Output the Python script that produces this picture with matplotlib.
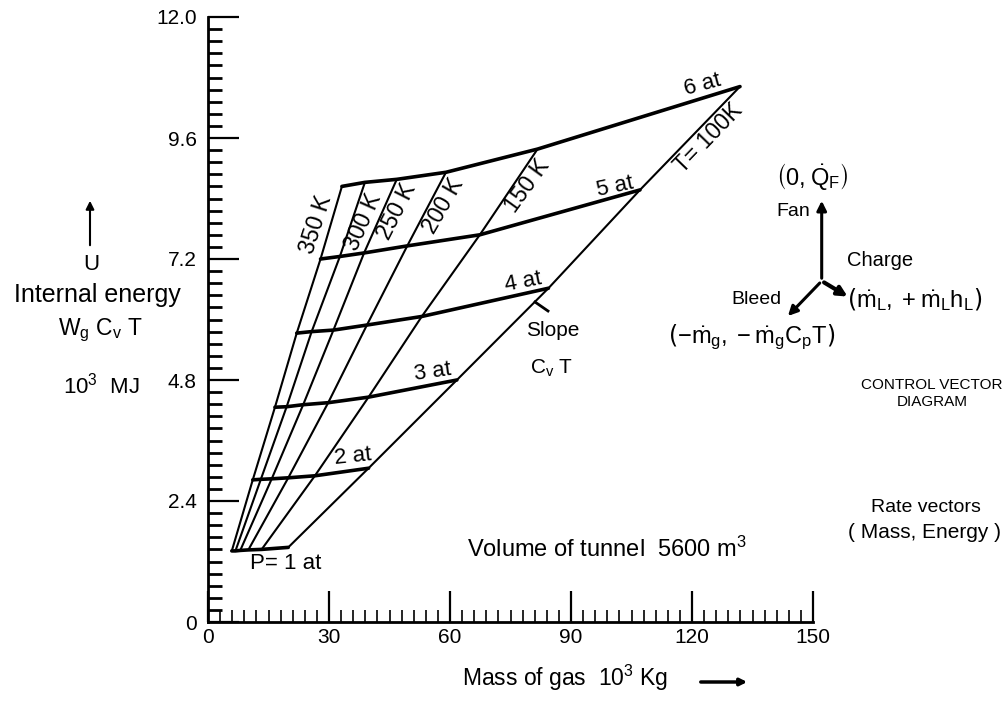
import matplotlib
matplotlib.use('Agg')
import matplotlib.pyplot as plt
from matplotlib.ticker import MultipleLocator, FixedLocator

plt.rcParams['font.family'] = ['Liberation Sans', 'DejaVu Sans']
plt.rcParams['mathtext.default'] = 'regular'

# ---------------- data ----------------
# temperature order along each isobar
temperature_labels = ['350 K', '300 K', '250 K', '200 K', '150 K', 'T= 100K']
pressure_labels = ['P= 1 at', '2 at', '3 at', '4 at', '5 at', '6 at']

# mass of gas (10^3 kg) at each isotherm for each pressure
mass_1at = [5.9, 6.8, 8.0, 10.0, 13.3, 19.9]
mass_2at = [11.1, 13.1, 15.8, 19.9, 26.5, 39.8]
mass_3at = [16.6, 19.5, 23.6, 29.8, 39.8, 61.7]
mass_4at = [22.0, 25.7, 31.1, 39.4, 53.0, 84.4]
mass_5at = [27.9, 32.7, 38.7, 49.4, 67.4, 107.1]
mass_6at = [33.2, 38.9, 46.8, 59.0, 81.7, 131.9]

# internal energy (10^3 MJ)
energy_1at = [1.41, 1.41, 1.42, 1.43, 1.44, 1.48]
energy_2at = [2.82, 2.83, 2.84, 2.86, 2.90, 3.05]
energy_3at = [4.26, 4.27, 4.31, 4.35, 4.46, 4.80]
energy_4at = [5.73, 5.76, 5.79, 5.89, 6.06, 6.62]
energy_5at = [7.20, 7.25, 7.32, 7.46, 7.68, 8.57]
energy_6at = [8.64, 8.72, 8.78, 8.92, 9.38, 10.62]

x_ticks = [0, 30, 60, 90, 120, 150]
y_ticks = [0, 2.4, 4.8, 7.2, 9.6, 12.0]
y_tick_labels = ['0', '2.4', '4.8', '7.2', '9.6', '12.0']

masses = [mass_1at, mass_2at, mass_3at, mass_4at, mass_5at, mass_6at]
energies = [energy_1at, energy_2at, energy_3at, energy_4at, energy_5at, energy_6at]

# ---------------- figure ----------------
W, H = 1007, 701
fig = plt.figure(figsize=(W / 100, H / 100), dpi=100)
fig.patch.set_facecolor('white')
ax = fig.add_axes([208 / W, (H - 622) / H, 605 / W, 605 / H])
ax.set_xlim(0, 150)
ax.set_ylim(0, 12.0)
ax.set_facecolor('none')

for s in ['top', 'right']:
    ax.spines[s].set_visible(False)
for s in ['left', 'bottom']:
    ax.spines[s].set_linewidth(2.0)

ax.xaxis.set_major_locator(FixedLocator(x_ticks))
ax.yaxis.set_major_locator(FixedLocator(y_ticks))
ax.set_yticklabels(y_tick_labels)
ax.xaxis.set_minor_locator(MultipleLocator(3))
ax.yaxis.set_minor_locator(MultipleLocator(0.24))
ax.tick_params(which='major', direction='in', length=22, width=1.6, labelsize=15)
ax.tick_params(axis='y', which='minor', direction='in', length=10, width=2.0)
ax.tick_params(axis='x', which='minor', direction='in', length=9, width=1.2)
ax.tick_params(axis='y', which='major', pad=8)
ax.tick_params(axis='x', which='major', pad=4)

# isotherms (thin straight lines)
for j in range(len(temperature_labels)):
    ax.plot([m[j] for m in masses], [e[j] for e in energies],
            color='black', lw=1.5, solid_capstyle='round')
# isobars (thick)
for m, e in zip(masses, energies):
    ax.plot(m, e, color='black', lw=2.6, solid_capstyle='round',
            solid_joinstyle='round')

# labels on the curves
p_label_pos = [(19.3, 1.17, 0), (36.0, 3.29, 6), (55.8, 4.96, 8),
               (78.1, 6.75, 11), (100.9, 8.63, 12), (122.5, 10.65, 15)]
for lab, (x, y, r) in zip(pressure_labels, p_label_pos):
    ax.text(x, y, lab, fontsize=16, rotation=r, rotation_mode='anchor',
            ha='center', va='center')

t_label_pos = [(26.8, 7.88, 72), (38.4, 7.94, 66), (46.9, 8.15, 63),
               (58.3, 8.25, 60), (79.1, 8.65, 54), (124.0, 9.60, 46)]
for lab, (x, y, r) in zip(temperature_labels, t_label_pos):
    ax.text(x, y, lab, fontsize=16.5, rotation=r, rotation_mode='anchor',
            ha='center', va='center', clip_on=False)

# ---------------- overlay in pixel coordinates ----------------
ov = fig.add_axes([0, 0, 1, 1], zorder=5)
ov.set_xlim(0, W)
ov.set_ylim(H, 0)
ov.axis('off')
ov.patch.set_alpha(0)

# y axis title
ov.annotate('', xy=(90, 198), xytext=(90, 248),
            arrowprops=dict(arrowstyle='-|>', lw=1.5, color='black', mutation_scale=12))
ov.text(91, 264, 'U', fontsize=16, ha='center', va='center')
ov.text(97, 295, 'Internal energy', fontsize=18, ha='center', va='center')
ov.text(100, 330, r'W$_g$ C$_v$ T', fontsize=16.5, ha='center', va='center')
ov.text(101, 386, r'10$^3$  MJ', fontsize=16, ha='center', va='center')

# x axis title
ov.text(565, 678, r'Mass of gas  10$^3$ Kg', fontsize=16.5, ha='center', va='center')
ov.annotate('', xy=(750, 682), xytext=(698, 682),
            arrowprops=dict(arrowstyle='-|>', lw=2.5, color='black', mutation_scale=10))

# slope annotation
ov.plot([535, 548], [302, 311], color='black', lw=2.0)
ov.text(553, 331, 'Slope', fontsize=15, ha='center', va='center')
ov.text(552, 368, r'C$_v$ T', fontsize=15, ha='center', va='center')

# volume note
ov.text(467, 549, r'Volume of tunnel  5600 m$^3$', fontsize=17, ha='left', va='center')

# control vector diagram
o = (821.7, 281)
ov.annotate('', xy=(821.7, 198), xytext=o,
            arrowprops=dict(arrowstyle='-|>', lw=2.2, color='black', mutation_scale=14))
ov.annotate('', xy=(850, 298), xytext=o,
            arrowprops=dict(arrowstyle='-|>', lw=3.0, color='black', mutation_scale=14))
ov.annotate('', xy=(786, 318), xytext=o,
            arrowprops=dict(arrowstyle='-|>', lw=2.2, color='black', mutation_scale=14))

ov.text(812, 177, r'$\left(0, \dot{Q}_F\right)$', fontsize=17, ha='center', va='center')
ov.text(793, 212, 'Fan', fontsize=14, ha='center', va='center')
ov.text(880, 260, 'Charge', fontsize=14.5, ha='center', va='center')
ov.text(915, 300, r'$\left(\dot{m}_L, +\dot{m}_L h_L\right)$', fontsize=17, ha='center', va='center')
ov.text(756, 300, 'Bleed', fontsize=14, ha='center', va='center')
ov.text(752, 337, r'$\left(-\dot{m}_g, -\dot{m}_g C_p T\right)$', fontsize=17, ha='center', va='center')
ov.text(932, 385, 'CONTROL VECTOR', fontsize=11, ha='center', va='center')
ov.text(932, 402, 'DIAGRAM', fontsize=11, ha='center', va='center')
ov.text(926, 507, 'Rate vectors', fontsize=14, ha='center', va='center')
ov.text(924, 532, '( Mass, Energy )', fontsize=15, ha='center', va='center')

fig.savefig('out.png', dpi=100, facecolor='white')
